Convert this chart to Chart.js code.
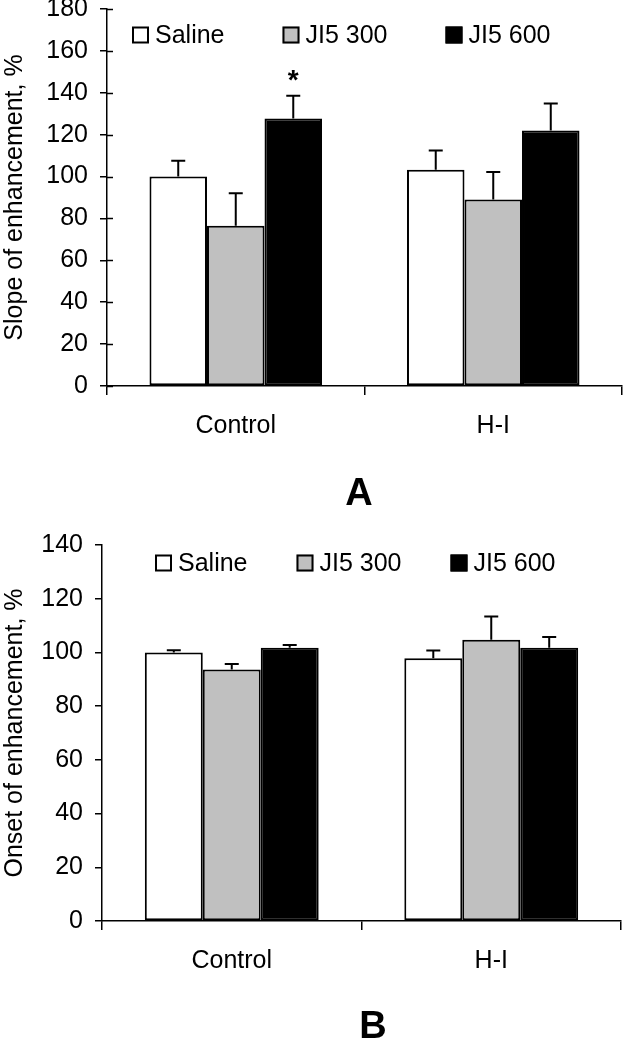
<!DOCTYPE html>
<html>
<head>
<meta charset="utf-8">
<script src="https://cdn.jsdelivr.net/npm/chart.js@4.4.1/dist/chart.umd.min.js"></script>
<style>
  html, body { margin: 0; padding: 0; background: #fff; }
  #wrap { position: relative; width: 623px; height: 1050px; }
  canvas { position: absolute; left: 0; }
</style>
</head>
<body>
<div id="wrap">
  <canvas id="chartA" width="623" height="520" style="top:0"></canvas>
  <canvas id="chartB" width="623" height="530" style="top:520px"></canvas>
</div>
<script>
const groups = ['Control', 'H-I'];
const seriesNames = ['Saline', 'JI5 300', 'JI5 600'];
const seriesColors = ['#ffffff', '#c0c0c0', '#000000'];

// panel A: slope of enhancement (mean, SEM)
const slopeSaline = [100, 103.2];
const slopeJI5300 = [76.5, 89];
const slopeJI5600 = [127.7, 122];
const slopeSalineErr = [7.6, 9.3];
const slopeJI5300Err = [15.5, 13.2];
const slopeJI5600Err = [10.9, 12.9];
const slopeMarks = [['', ''], ['', ''], ['*', '']];
const slopeAxis = { min: 0, max: 180, step: 20 };

// panel B: onset of enhancement (mean, SEM)
const onsetSaline = [100, 97.8];
const onsetJI5300 = [93.6, 104.7];
const onsetJI5600 = [101.7, 101.7];
const onsetSalineErr = [0.8, 2.9];
const onsetJI5300Err = [2.1, 8.7];
const onsetJI5600Err = [1.1, 4.0];
const onsetMarks = [['', ''], ['', ''], ['', '']];
const onsetAxis = { min: 0, max: 140, step: 20 };

const FONT = "'Liberation Sans', Arial, sans-serif";
Chart.defaults.font.family = FONT;
Chart.defaults.color = '#000';

// error bars, significance star, legend, panel letter
const extras = {
  id: 'extras',
  afterDatasetsDraw(chart, args, opts) {
    const ctx = chart.ctx;
    const y = chart.scales.y;
    ctx.save();
    ctx.strokeStyle = '#000';
    ctx.lineWidth = 2;
    chart.data.datasets.forEach((ds, di) => {
      const meta = chart.getDatasetMeta(di);
      meta.data.forEach((bar, i) => {
        const topVal = ds.data[i] + ds.errors[i];
        const yTop = y.getPixelForValue(topVal);
        ctx.beginPath();
        ctx.moveTo(bar.x, bar.y);
        ctx.lineTo(bar.x, yTop);
        ctx.moveTo(bar.x - 7, yTop);
        ctx.lineTo(bar.x + 7, yTop);
        ctx.stroke();
        if (ds.marks[i]) {
          ctx.fillStyle = '#000';
          ctx.font = 'bold 28px ' + FONT;
          ctx.textAlign = 'center';
          ctx.textBaseline = 'alphabetic';
          ctx.fillText(ds.marks[i], bar.x, yTop - 7);
        }
      });
    });
    ctx.restore();
  },
  afterDraw(chart, args, opts) {
    const ctx = chart.ctx;
    const area = chart.chartArea;
    const y = chart.scales.y;
    ctx.save();
    // ticks poking into the plot
    if (opts.innerTicks) {
      ctx.strokeStyle = '#000';
      ctx.lineWidth = 1.5;
      y.ticks.forEach(t => {
        const py = Math.round(y.getPixelForValue(t.value)) + 0.5;
        ctx.beginPath();
        ctx.moveTo(area.left, py);
        ctx.lineTo(area.left + opts.innerTicks, py);
        ctx.stroke();
      });
    }
    // legend
    ctx.font = '25px ' + FONT;
    ctx.textBaseline = 'middle';
    ctx.textAlign = 'left';
    let x = opts.legendX;
    chart.data.datasets.forEach(ds => {
      ctx.fillStyle = ds.backgroundColor;
      ctx.fillRect(x, opts.legendY - 8.5, 17, 17);
      ctx.strokeStyle = '#000';
      ctx.lineWidth = 2;
      ctx.strokeRect(x + 1, opts.legendY - 7.5, 15, 15);
      ctx.fillStyle = '#000';
      ctx.fillText(ds.label, x + 23, opts.legendY + 1);
      x += 23 + ctx.measureText(ds.label).width + opts.legendGap;
    });
    // panel letter
    ctx.font = 'bold 38px ' + FONT;
    ctx.textAlign = 'center';
    ctx.textBaseline = 'alphabetic';
    ctx.fillText(opts.letter, opts.letterX, opts.letterY);
    ctx.restore();
  }
};

function makeDatasets(values, errors, marks) {
  return seriesNames.map((name, k) => ({
    label: name,
    data: values[k],
    errors: errors[k],
    marks: marks[k],
    backgroundColor: seriesColors[k],
    borderColor: '#000',
    borderWidth: 2,
    borderSkipped: false,
    categoryPercentage: 0.67,
    barPercentage: 1.0
  }));
}

function drawPanel(id, title, axis, values, errors, marks, lay) {
  return new Chart(document.getElementById(id), {
    type: 'bar',
    data: { labels: groups, datasets: makeDatasets(values, errors, marks) },
    options: {
      responsive: false,
      animation: false,
      devicePixelRatio: 1,
      layout: { padding: { top: lay.top, right: lay.right, bottom: 0, left: 0 } },
      plugins: {
        legend: { display: false },
        tooltip: { enabled: false },
        extras: lay.extras
      },
      scales: {
        x: {
          grid: { offset: true, drawOnChartArea: false, color: '#000', lineWidth: 1.5, tickLength: 9 },
          border: { display: true, color: '#000', width: 1.5 },
          ticks: { font: { size: 25 }, padding: 16, color: '#000' },
          afterFit(s) { s.height = lay.xHeight; s.paddingLeft = 0; s.paddingRight = 0; }
        },
        y: {
          min: axis.min,
          max: axis.max,
          grid: { drawOnChartArea: false, color: '#000', lineWidth: 1.5, tickLength: 7 },
          border: { display: true, color: '#000', width: 1.5 },
          ticks: { stepSize: axis.step, font: { size: 25 }, padding: 12, color: '#000' },
          title: { display: true, text: title, font: { size: 25 }, padding: 0, color: '#000' },
          afterFit(s) { s.width = lay.yWidth; s.paddingTop = 0; s.paddingBottom = 0; }
        }
      }
    },
    plugins: [extras]
  });
}

drawPanel('chartA', 'Slope of enhancement, %', slopeAxis,
  [slopeSaline, slopeJI5300, slopeJI5600],
  [slopeSalineErr, slopeJI5300Err, slopeJI5600Err],
  slopeMarks,
  { top: 9, right: 1, xHeight: 134, yWidth: 107,
    extras: { innerTicks: 6, legendX: 132, legendY: 35, legendGap: 58, letter: 'A', letterX: 359, letterY: 505 } });

drawPanel('chartB', 'Onset of enhancement, %', onsetAxis,
  [onsetSaline, onsetJI5300, onsetJI5600],
  [onsetSalineErr, onsetJI5300Err, onsetJI5600Err],
  onsetMarks,
  { top: 25, right: 2, xHeight: 129, yWidth: 102,
    extras: { innerTicks: 0, legendX: 155, legendY: 43, legendGap: 49, letter: 'B', letterX: 373, letterY: 518 } });
</script>
</body>
</html>
